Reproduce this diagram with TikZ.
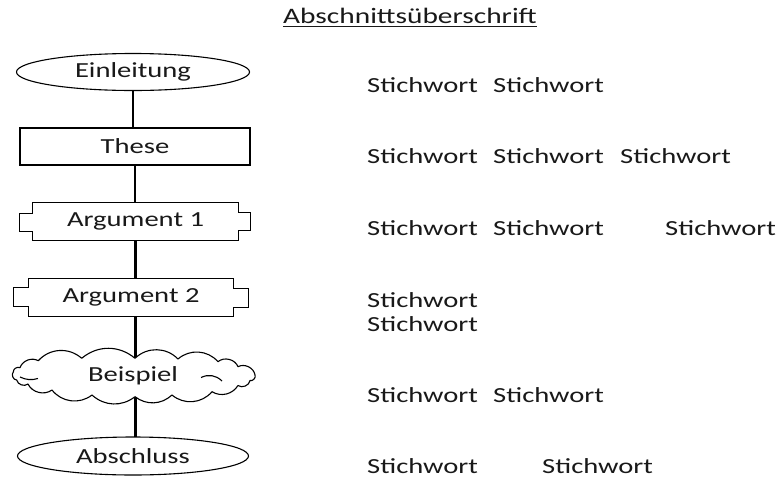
\documentclass[tikz,border=0pt]{standalone}
\usepackage{fontspec}
\setmainfont{Carlito}[FakeStretch=1.33]
\usetikzlibrary{shapes.geometric,backgrounds}
\begin{document}
\begin{tikzpicture}[x=1pt,y=-1pt,
  every node/.style={text=black!90, font=\fontsize{21.5}{24}\selectfont},
  shapeline/.style={draw=black, line width=1.1pt, fill=white},
  oval/.style={shapeline, ellipse, inner sep=0pt, minimum width=233pt, minimum height=37pt},
  boxnode/.style={shapeline, rectangle, inner sep=0pt, minimum width=230pt, minimum height=37pt},
  plaquenode/.style={rectangle, inner sep=0pt, minimum width=205pt, minimum height=37pt},
  textnode/.style={rectangle, inner sep=0pt, minimum width=235pt, minimum height=40pt},
  link/.style={draw=black, line width=2.2pt},
  kw/.style={anchor=base west, inner sep=0pt}]
\useasboundingbox (0,0) rectangle (781,477);

% title
\node[anchor=base, inner sep=0pt, font=\fontsize{22.1}{24}\selectfont] (title) at (410,23) {Abschnittsüberschrift};
\draw[black!90, line width=1pt] ([yshift=-3pt]title.base west) -- ([yshift=-3pt]title.base east);

% cloud outline (drawn directly)
\draw[shapeline, line join=round]
  (13.3,372) to[bend left=60] (20,367.7) to[bend left=50] (38.3,360.7)
  to[bend left=45] (81.7,358.3) to[bend left=40] (135,358.3)
  to[bend left=45] (178,359) to[bend left=45] (218,361.7)
  to[bend left=55] (238,366.7) to[bend left=55] (255,375)
  to[bend left=70] (250,380.5) to[bend left=60] (238,385.5)
  to[bend left=45] (212,391.7) to[bend left=45] (172,395)
  to[bend left=40] (135,396.7) to[bend left=40] (92,395)
  to[bend left=45] (52,390) to[bend left=50] (28,384)
  to[bend left=60] (16.7,380) to[bend left=70] cycle;
\draw[draw=black, line width=1.1pt] (20,377) to[bend right=20] (38,378.5);
\draw[draw=black, line width=1.1pt] (201,377.5) to[bend left=35] (222,381);

% left column
\node[oval] (ein) at (133,72) {Einleitung};
\node[boxnode] (these) at (135,146.5) {These};
\node[plaquenode] (a1) at (135.5,221.5) {Argument 1};
\node[plaquenode] (a2) at (131,297.5) {Argument 2};
\node[textnode] (bsp) at (133,376) {Beispiel};
\node[oval, minimum width=231pt, minimum height=38pt] (abs) at (133,456) {Abschluss};

% plaque outlines
\draw[shapeline, fill=none] (a1.north west) -- (a1.north east) -- ++(0,10) -- ++(12.5,0) -- ++(0,18) -- ++(-12.5,0)
  -- (a1.south east) -- (a1.south west) -- ++(0,-9) -- ++(-13,0) -- ++(0,-18) -- ++(13,0) -- cycle;
\draw[shapeline, fill=none] (a2.north west) -- (a2.north east) -- ++(0,10) -- ++(15,0) -- ++(0,19) -- ++(-15,0)
  -- (a2.south east) -- (a2.south west) -- ++(0,-10) -- ++(-15,0) -- ++(0,-19) -- ++(15,0) -- cycle;

% connectors (behind the shapes)
\begin{pgfonlayer}{background}
\draw[link] (ein.center) -- (ein.center |- these.center);
\draw[link] (these.south) -- (these.south |- a1.north);
\draw[link] (a1.south) -- (a1.south |- a2.north);
\draw[link] (a2.south -| a1.south) -- (a1.south |- bsp.center);
\draw[link] (bsp.center -| a1.south) -- (a1.south |- abs.center);
\end{pgfonlayer}

% keywords
\node[kw] (k1a) at (367,92) {Stichwort};
\node[kw] (k1b) at (493,92) {Stichwort};
\node[kw] (k2a) at (367,163) {Stichwort};
\node[kw] (k2b) at (493,163) {Stichwort};
\node[kw] (k2c) at (620,163) {Stichwort};
\node[kw] (k3a) at (367,235.5) {Stichwort};
\node[kw] (k3b) at (493,235.5) {Stichwort};
\node[kw] (k3c) at (665,235.5) {Stichwort};
\node[kw] (k4a) at (367,307) {Stichwort};
\node[kw] (k4b) at (367,331) {Stichwort};
\node[kw] (k5a) at (367,402) {Stichwort};
\node[kw] (k5b) at (493,402) {Stichwort};
\node[kw] (k6a) at (367,473) {Stichwort};
\node[kw] (k6b) at (542,473) {Stichwort};
\end{tikzpicture}
\end{document}
